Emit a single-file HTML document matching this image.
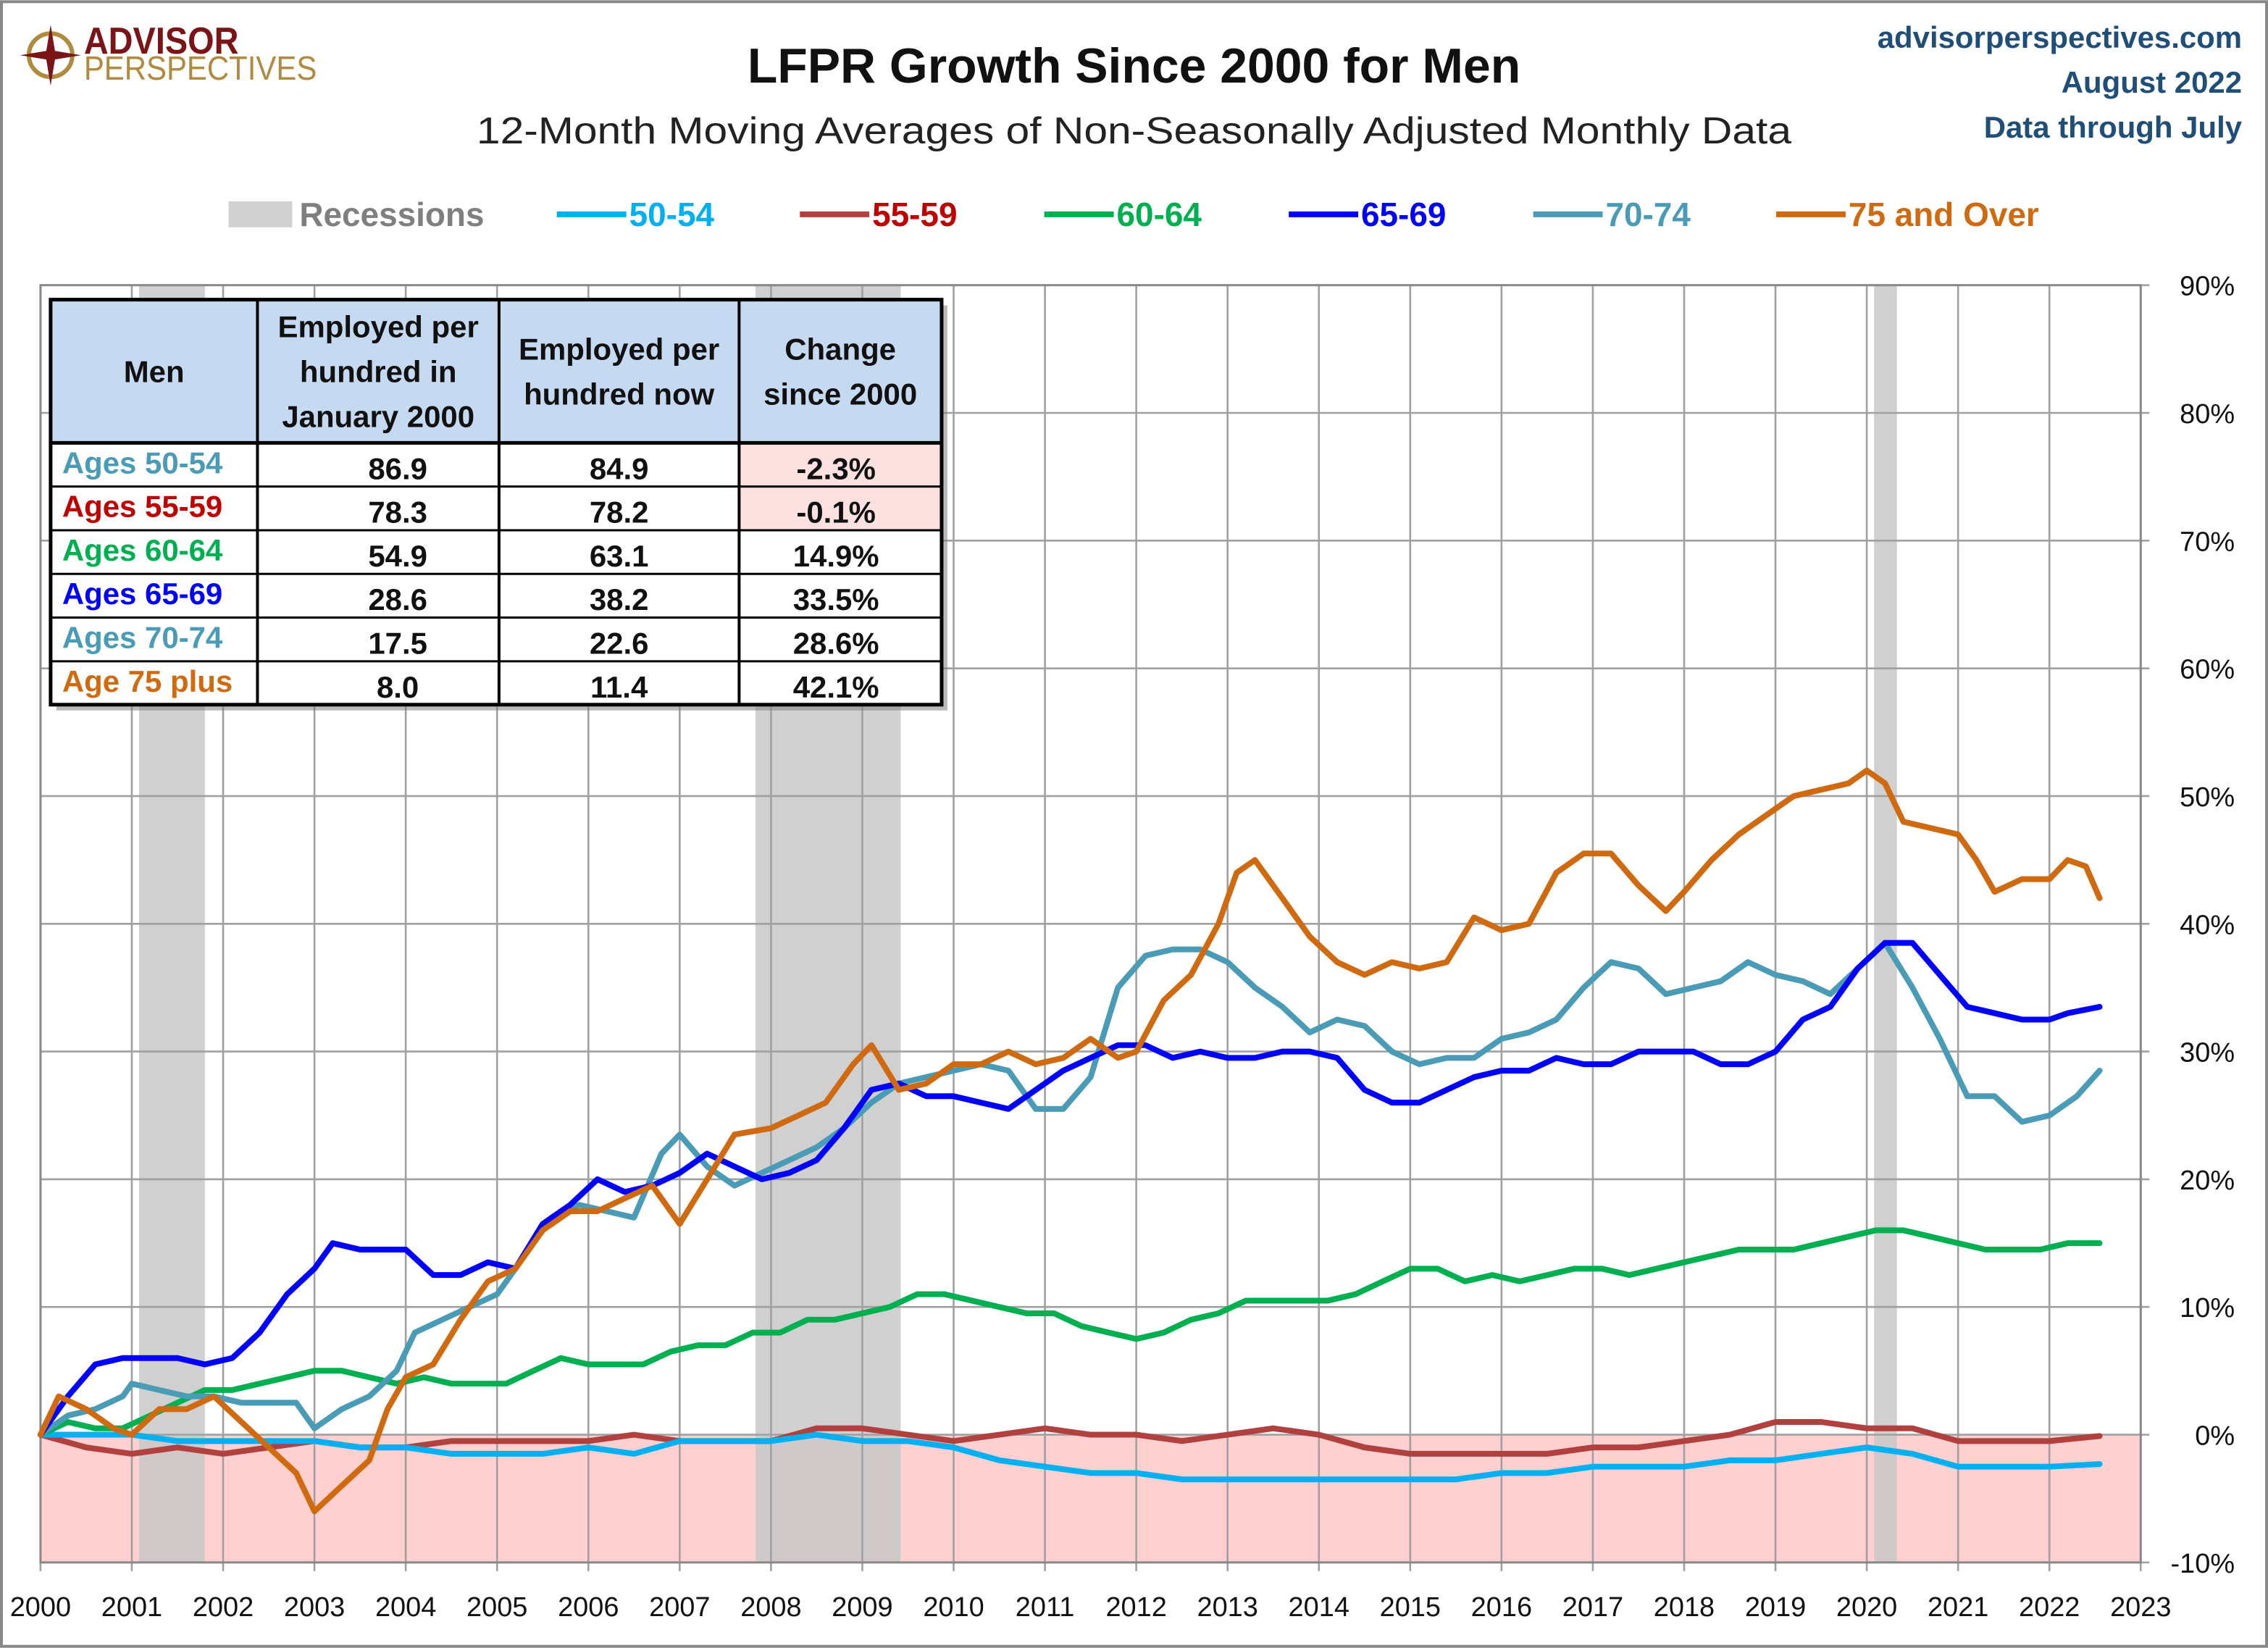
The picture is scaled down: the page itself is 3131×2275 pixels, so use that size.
<!DOCTYPE html>
<html><head><meta charset="utf-8"><style>
html,body{margin:0;padding:0;background:#fff}
svg{display:block}
text{font-family:"Liberation Sans",sans-serif}
</style></head><body>
<svg id="chart" width="3131" height="2275" viewBox="0 0 1568 1139" xmlns="http://www.w3.org/2000/svg">
<rect x="1" y="1" width="1566" height="1137" fill="#fff" stroke="#888" stroke-width="2"/>
<g>
<circle cx="35" cy="38" r="15" fill="none" stroke="#b08a3e" stroke-width="3"/>
<polygon points="35,17 38,35 56,38 38,41 35,59 32,41 14,38 32,35" fill="#7a1417"/>
<text x="58" y="37" font-size="26" font-weight="bold" fill="#7a1417" textLength="107" lengthAdjust="spacingAndGlyphs">ADVISOR</text>
<text x="58" y="55" font-size="23" fill="#b08a3e" textLength="161" lengthAdjust="spacingAndGlyphs">PERSPECTIVES</text>
</g>
<text x="784" y="57" text-anchor="middle" font-size="34" font-weight="bold" fill="#111">LFPR Growth Since 2000 for Men</text>
<text x="784" y="99" text-anchor="middle" font-size="26" fill="#222" textLength="909" lengthAdjust="spacingAndGlyphs">12-Month Moving Averages of Non-Seasonally Adjusted Monthly Data</text>
<g font-size="21" font-weight="bold" fill="#1f4e79" text-anchor="end">
<text x="1550" y="33">advisorperspectives.com</text>
<text x="1550" y="64">August 2022</text>
<text x="1550" y="95">Data through July</text>
</g>
<g id="legend" font-size="23" font-weight="bold"></g>
<g id="plot"></g>
<g id="table"></g>
</svg>
<script>
const years=[2000,2001,2002,2003,2004,2005,2006,2007,2008,2009,2010,2011,2012,2013,2014,2015,2016,2017,2018,2019,2020,2021,2022,2023];
const yTicks=[-10,0,10,20,30,40,50,60,70,80,90];
const recessions=[[2001.08,2001.8],[2007.83,2009.42],[2020.08,2020.33]];
const seriesNames=["50-54","55-59","60-64","65-69","70-74","75 and Over"];
const seriesColors=["#00b0f0","#b0413e","#00b050","#0000ff","#4a9bb5","#d06a10"];
const t50=[2000,2000.5,2001,2001.5,2002,2002.5,2003,2003.5,2004,2004.5,2005,2005.5,2006,2006.5,2007,2007.5,2008,2008.5,2009,2009.5,2010,2010.5,2011,2011.5,2012,2012.5,2013,2013.5,2014,2014.5,2015,2015.5,2016,2016.5,2017,2017.5,2018,2018.5,2019,2019.5,2020,2020.5,2021,2021.5,2022,2022.55];
const v50=[0,0,0,-0.5,-0.5,-0.5,-0.5,-1,-1,-1.5,-1.5,-1.5,-1,-1.5,-0.5,-0.5,-0.5,0,-0.5,-0.5,-1,-2,-2.5,-3,-3,-3.5,-3.5,-3.5,-3.5,-3.5,-3.5,-3.5,-3,-3,-2.5,-2.5,-2.5,-2,-2,-1.5,-1,-1.5,-2.5,-2.5,-2.5,-2.3];
const t55=t50;
const v55=[0,-1,-1.5,-1,-1.5,-1,-0.5,-1,-1,-0.5,-0.5,-0.5,-0.5,0,-0.5,-0.5,-0.5,0.5,0.5,0,-0.5,0,0.5,0,0,-0.5,0,0.5,0,-1,-1.5,-1.5,-1.5,-1.5,-1,-1,-0.5,0,1,1,0.5,0.5,-0.5,-0.5,-0.5,-0.1];
const t60=[2000,2000.3,2000.6,2000.9,2001.2,2001.5,2001.8,2002.1,2002.4,2002.7,2003.0,2003.3,2003.6,2003.9,2004.2,2004.5,2004.8,2005.1,2005.4,2005.7,2006.0,2006.3,2006.6,2006.9,2007.2,2007.5,2007.8,2008.1,2008.4,2008.7,2009.0,2009.3,2009.6,2009.9,2010.2,2010.5,2010.8,2011.1,2011.4,2011.7,2012.0,2012.3,2012.6,2012.9,2013.2,2013.5,2013.8,2014.1,2014.4,2014.7,2015.0,2015.3,2015.6,2015.9,2016.2,2016.5,2016.8,2017.1,2017.4,2017.7,2018.0,2018.3,2018.6,2018.9,2019.2,2019.5,2019.8,2020.1,2020.4,2020.7,2021.0,2021.3,2021.6,2021.9,2022.2,2022.55];
const v60=[0,1,0.5,0.5,1.5,2.5,3.5,3.5,4,4.5,5,5,4.5,4,4.5,4,4,4,5,6,5.5,5.5,5.5,6.5,7,7,8,8,9,9,9.5,10,11,11,10.5,10,9.5,9.5,8.5,8,7.5,8,9,9.5,10.5,10.5,10.5,10.5,11,12,13,13,12,12.5,12,12.5,13,13,12.5,13,13.5,14,14.5,14.5,14.5,15,15.5,16,16,15.5,15,14.5,14.5,14.5,15,15];
const t65=[2000,2000.3,2000.6,2000.9,2001.2,2001.5,2001.8,2002.1,2002.4,2002.7,2003.0,2003.2,2003.5,2003.8,2004.0,2004.3,2004.6,2004.9,2005.2,2005.5,2005.8,2006.1,2006.4,2006.7,2007.0,2007.3,2007.6,2007.9,2008.2,2008.5,2008.8,2009.1,2009.4,2009.7,2010.0,2010.3,2010.6,2010.9,2011.2,2011.5,2011.8,2012.1,2012.4,2012.7,2013.0,2013.3,2013.6,2013.9,2014.2,2014.5,2014.8,2015.1,2015.4,2015.7,2016.0,2016.3,2016.6,2016.9,2017.2,2017.5,2017.8,2018.1,2018.4,2018.7,2019.0,2019.3,2019.6,2019.9,2020.2,2020.5,2020.8,2021.1,2021.4,2021.7,2022.0,2022.2,2022.55];
const v65=[0,3,5.5,6,6,6,5.5,6,8,11,13,15,14.5,14.5,14.5,12.5,12.5,13.5,13,16.5,18,20,19,19.5,20.5,22,21,20,20.5,21.5,24,27,27.5,26.5,26.5,26,25.5,27,28.5,29.5,30.5,30.5,29.5,30,29.5,29.5,30,30,29.5,27,26,26,27,28,28.5,28.5,29.5,29,29,30,30,30,29,29,30,32.5,33.5,36.5,38.5,38.5,36,33.5,33,32.5,32.5,33,33.5];
const t70=[2000,2000.3,2000.6,2000.9,2001.0,2001.3,2001.6,2001.9,2002.2,2002.5,2002.8,2003.0,2003.3,2003.6,2003.9,2004.1,2004.4,2004.7,2005.0,2005.3,2005.6,2005.9,2006.2,2006.5,2006.8,2007.0,2007.3,2007.6,2007.9,2008.2,2008.5,2008.8,2009.1,2009.4,2009.7,2010.0,2010.3,2010.6,2010.9,2011.2,2011.5,2011.8,2012.1,2012.4,2012.7,2013.0,2013.3,2013.6,2013.9,2014.2,2014.5,2014.8,2015.1,2015.4,2015.7,2016.0,2016.3,2016.6,2016.9,2017.2,2017.5,2017.8,2018.1,2018.4,2018.7,2019.0,2019.3,2019.6,2019.9,2020.2,2020.5,2020.8,2021.1,2021.4,2021.7,2022.0,2022.3,2022.55];
const v70=[0,1.5,2,3,4,3.5,3,3,2.5,2.5,2.5,0.5,2,3,5,8,9,10,11,14,17,18,17.5,17,22,23.5,21,19.5,20.5,21.5,22.5,24,26,27.5,28,28.5,29,28.5,25.5,25.5,28,35,37.5,38,38,37,35,33.5,31.5,32.5,32,30,29,29.5,29.5,31,31.5,32.5,35,37,36.5,34.5,35,35.5,37,36,35.5,34.5,36.5,38.5,35,31,26.5,26.5,24.5,25,26.5,28.5];
const t75=[2000,2000.2,2000.5,2000.8,2001.0,2001.3,2001.6,2001.9,2002.2,2002.5,2002.8,2003.0,2003.3,2003.6,2003.8,2004.0,2004.3,2004.6,2004.9,2005.2,2005.5,2005.8,2006.1,2006.4,2006.7,2007.0,2007.3,2007.6,2008.0,2008.3,2008.6,2008.9,2009.1,2009.4,2009.7,2010.0,2010.3,2010.6,2010.9,2011.2,2011.5,2011.8,2012.0,2012.3,2012.6,2012.9,2013.1,2013.3,2013.6,2013.9,2014.2,2014.5,2014.8,2015.1,2015.4,2015.7,2016.0,2016.3,2016.6,2016.9,2017.2,2017.5,2017.8,2018.0,2018.3,2018.6,2018.9,2019.2,2019.5,2019.8,2020.0,2020.2,2020.4,2020.7,2021.0,2021.2,2021.4,2021.7,2022.0,2022.2,2022.4,2022.55];
const v75=[0,3,2,0.5,0,2,2,3,1,-1,-3,-6,-4,-2,2,4.5,5.5,9,12,13,16,17.5,17.5,18.5,19.5,16.5,20,23.5,24,25,26,29,30.5,27,27.5,29,29,30,29,29.5,31,29.5,30,34,36,40,44,45,42,39,37,36,37,36.5,37,40.5,39.5,40,44,45.5,45.5,43,41,42.5,45,47,48.5,50,50.5,51,52,51,48,47.5,47,45,42.5,43.5,43.5,45,44.5,42];
const seriesT=[t50,t55,t60,t65,t70,t75];
const seriesV=[v50,v55,v60,v65,v70,v75];
const tableRows=["Ages 50-54","Ages 55-59","Ages 60-64","Ages 65-69","Ages 70-74","Age 75 plus"];
const rowColors=["#4a9bb5","#c00000","#00b050","#0000ff","#4a9bb5","#d06a10"];
const jan2000=["86.9","78.3","54.9","28.6","17.5","8.0"];
const nowVals=["84.9","78.2","63.1","38.2","22.6","11.4"];
const changes=["-2.3%","-0.1%","14.9%","33.5%","28.6%","42.1%"];

const NS="http://www.w3.org/2000/svg";
const X0=28,X1=1480,Y90=197,Ym10=1080;
const xs=t=>X0+(t-2000)*(X1-X0)/23;
const ys=v=>Ym10-(v+10)*(Ym10-Y90)/100;
function mk(tag,attrs,parent){const e=document.createElementNS(NS,tag);for(const k in attrs)e.setAttribute(k,attrs[k]);parent.appendChild(e);return e;}
const plot=document.getElementById('plot');
const neg=mk('rect',{x:X0,y:ys(0),width:X1-X0,height:ys(-10)-ys(0),fill:'#ffd0d0'},plot);


recessions.forEach(r=>{const e=mk('rect',{x:xs(r[0]),y:Y90,width:xs(r[1])-xs(r[0]),height:Ym10-Y90,fill:'#c8c8c8',opacity:0.85},plot);

});
years.forEach(y=>{const e=mk('line',{x1:xs(y),x2:xs(y),y1:Y90,y2:Ym10+6,stroke:'#a0a0a0','stroke-width':1.3},plot);


const t=mk('text',{x:xs(y),y:1117,'text-anchor':'middle','font-size':19,fill:'#111'},plot);t.textContent=y;

});
yTicks.forEach(v=>{const e=mk('line',{x1:X0,x2:X1+6,y1:ys(v),y2:ys(v),stroke:'#a0a0a0','stroke-width':1.3},plot);


const t=mk('text',{x:1545,y:ys(v)+7,'text-anchor':'end','font-size':19,fill:'#111'},plot);t.textContent=v+'%';

});
const bd=mk('rect',{x:X0,y:Y90,width:X1-X0,height:Ym10-Y90,fill:'none',stroke:'#888','stroke-width':1.5},plot);


const order=[1,0,2,4,3,5];
order.forEach(i=>{const d=seriesT[i].map((t,j)=>(j?'L':'M')+xs(t).toFixed(1)+','+ys(seriesV[i][j]).toFixed(1)).join('');
const p=mk('path',{d:d,fill:'none',stroke:seriesColors[i],'stroke-width':4,'stroke-linejoin':'round','stroke-linecap':'round'},plot);

});
const lg=document.getElementById('legend');
const r0=mk('rect',{x:158,y:139,width:44,height:18,fill:'#d0d0d0'},lg);


const tr=mk('text',{x:207,y:156,fill:'#7f7f7f'},lg);tr.textContent='Recessions';


const lx=[385,553,722,891,1060,1228];
seriesNames.forEach((n,i)=>{const l=mk('line',{x1:lx[i],x2:lx[i]+48,y1:148,y2:148,stroke:seriesColors[i],'stroke-width':4},lg);


const t=mk('text',{x:lx[i]+50,y:156,fill:i==1?'#c00000':seriesColors[i]},lg);t.textContent=n;

});
const tb=document.getElementById('table');
const cx=[35,178,345,511,651],hy=207,hb=306,rh=30.2;
mk('rect',{x:39,y:211,width:616,height:280,fill:'#777',opacity:0.5},tb);
mk('rect',{x:35,y:207,width:616,height:280,fill:'#fff'},tb);
mk('rect',{x:35,y:207,width:616,height:99,fill:'#c5d9f1'},tb);
[0,1].forEach(i=>mk('rect',{x:511,y:hb+i*rh,width:140,height:rh,fill:'#fde0e0'},tb));
const hdr=[["Men"],["Employed per","hundred in","January 2000"],["Employed per","hundred now"],["Change","since 2000"]];
hdr.forEach((h,i)=>{const mid=(cx[i]+cx[i+1])/2;const n=h.length;h.forEach((s,k)=>{const t=mk('text',{x:mid,y:264+(k-(n-1)/2)*31,'text-anchor':'middle','font-size':21,'font-weight':'bold',fill:'#111'},tb);t.textContent=s;

});});
tableRows.forEach((r,i)=>{const y=hb+i*rh+23;
const a=mk('text',{x:43,y:y-2,'font-size':21,'font-weight':'bold',fill:rowColors[i]},tb);a.textContent=r;


[[jan2000,275],[nowVals,428],[changes,578]].forEach(([arr,x])=>{const t=mk('text',{x:x,y:y+2,'text-anchor':'middle','font-size':21,'font-weight':'bold',fill:'#111'},tb);t.textContent=arr[i];

});});
for(let i=0;i<=6;i++)mk('line',{x1:35,x2:651,y1:hb+i*rh,y2:hb+i*rh,stroke:'#000','stroke-width':i==0?2.5:1.5},tb);
cx.forEach(x=>mk('line',{x1:x,x2:x,y1:207,y2:487,stroke:'#000','stroke-width':2},tb));
mk('rect',{x:35,y:207,width:616,height:280,fill:'none',stroke:'#000','stroke-width':2.5},tb);
</script>
</body></html>
